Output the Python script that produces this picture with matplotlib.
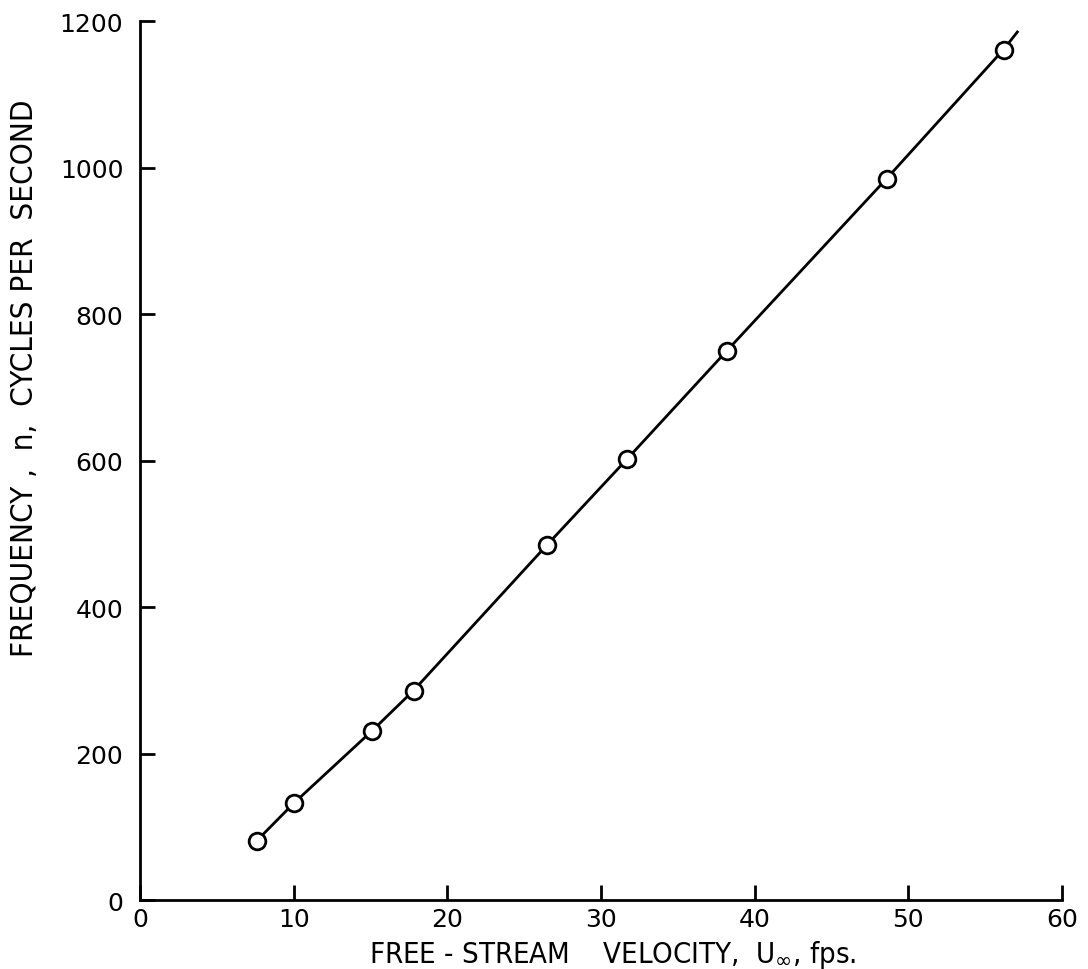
import matplotlib
matplotlib.use("Agg")
import matplotlib.pyplot as plt

# measured points (free-stream velocity, fps  vs  frequency, cps)
velocity = [7.6, 10.0, 15.1, 17.8, 26.5, 31.7, 38.2, 48.6, 56.2]
frequency = [81, 132, 231, 286, 485, 602, 750, 985, 1161]

# faired curve drawn through the points, runs a little past the last one
curve_x = velocity + [57.1]
curve_y = frequency + [1185]

x_ticks = [0, 10, 20, 30, 40, 50, 60]
y_ticks = [0, 200, 400, 600, 800, 1000, 1200]

label_font = ['DejaVu Sans']
tick_font = ['DejaVu Sans']

fig = plt.figure(figsize=(10.88, 9.70), dpi=100)
ax = fig.add_axes([0.1287, 0.0711, 0.976 - 0.1287, 0.9773 - 0.0711])

ax.plot(curve_x, curve_y, color='black', lw=2.0, zorder=2)
ax.plot(velocity, frequency, linestyle='none', marker='o', ms=12,
        mfc='white', mec='black', mew=2.0, zorder=3)

ax.set_xlim(0, 60)
ax.set_ylim(0, 1200)
ax.set_xticks(x_ticks)
ax.set_yticks(y_ticks)

ax.spines['right'].set_visible(False)
ax.spines['top'].set_visible(False)
for side in ['left', 'bottom']:
    ax.spines[side].set_linewidth(2.0)

ax.tick_params(axis='both', direction='in', length=10.5, width=2.0,
               labelsize=18, pad=5)
ax.tick_params(axis='y', pad=12)
for lab in ax.get_xticklabels() + ax.get_yticklabels():
    lab.set_family(tick_font)

ax.set_xlabel(r'FREE - STREAM    VELOCITY,  U$_{\infty}$, fps.',
              family=label_font, fontsize=21, fontstretch='condensed')
ax.xaxis.set_label_coords(0.513, -0.043)
ax.set_ylabel('FREQUENCY ,  n,  CYCLES PER  SECOND',
              family=label_font, fontsize=22.5, fontstretch='condensed')
ax.yaxis.set_label_coords(-0.11, 0.595)

fig.savefig('out.png', dpi=100)
